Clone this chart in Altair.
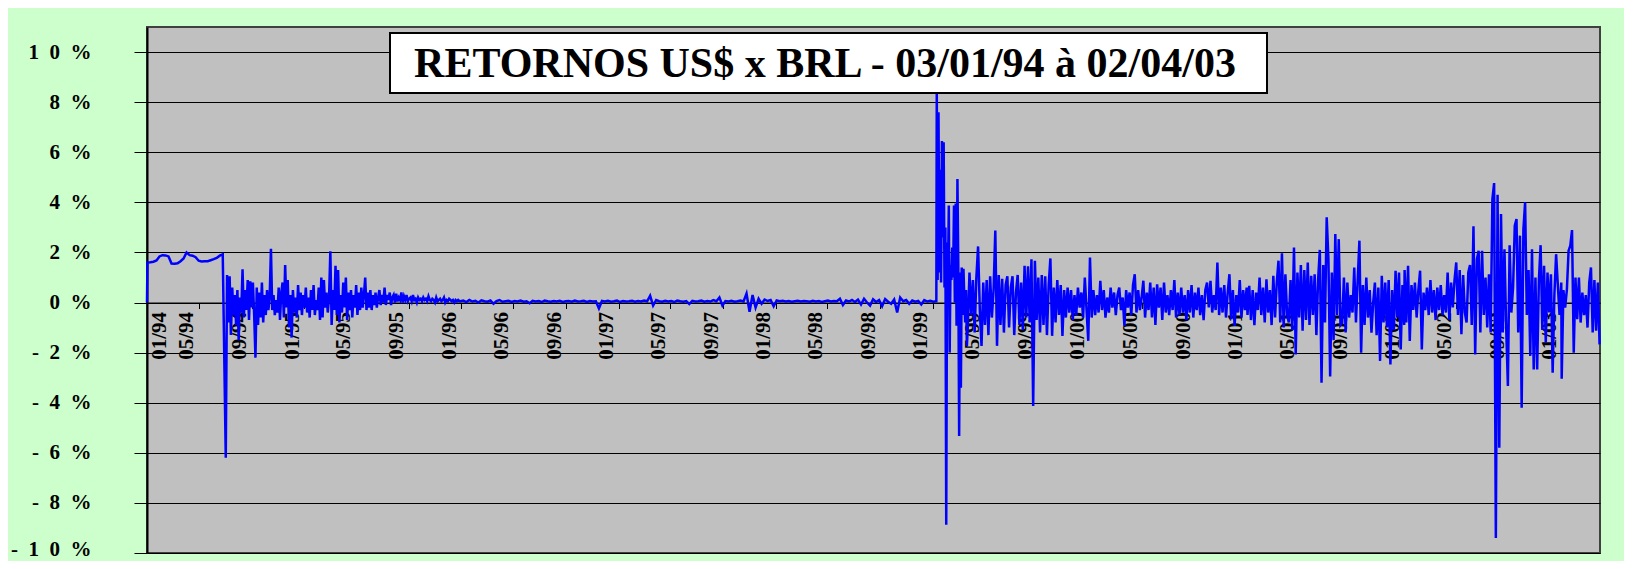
import pandas as pd
import altair as alt

FONT = "Liberation Serif, Times New Roman, serif"
TITLE = "RETORNOS US$ x BRL - 03/01/94 à 02/04/03"

# ---- daily returns (%), by period ----
start_1994 = [0.0]
plateau_1994 = [1.60, 1.61, 1.63, 1.68, 1.84, 1.89, 1.88, 1.84, 1.56, 1.55, 1.57, 1.65, 1.76,
                2.00, 1.89, 1.87, 1.81, 1.67, 1.64, 1.65, 1.65, 1.69, 1.73, 1.78, 1.87, 1.92]
ret_1994_95 = [
    -6.2, 1.1, -0.8, 1.05, -1.3, 0.6, -0.5, 0.3, -0.9, 0.5,
    -1.5, 0.2, -0.4, 1.33, -0.6, 0.5, -0.3, 0.9, -0.7, 0.85,
    -0.2, 0.8, -0.5, -2.2, 0.6, -0.9, 0.4, -0.6, 0.8, -0.8,
    0.3, -0.5, 0.5, -0.3, 0.2, 2.15, -0.3, 0.3, -0.5, 0.1,
    -0.4, 0.6, -0.7, 0.4, 0.8, -0.6, 1.5, -0.2, 0.9, -1.0,
    0.3, -1.4, 0.5, -0.4, 0.2, -0.6, 0.7, -0.3, 0.4, -0.5,
    0.3, -0.2, 0.6, -0.4, 0.2, -0.6, 0.5, -0.3, 0.7, -0.5,
    0.1, -0.3, 0.6, -0.7, 1.0, -0.6, 0.9, -0.2, 0.4, -0.4,
    0.2, 2.05, -0.9, 0.5, -0.3, 1.47, -0.5, 1.3, -0.8, 0.3,
    -0.4, 0.8, -0.2, 1.0, -0.7, 0.4, -0.3, 0.5, -0.6, 0.3,
    -0.2, 0.7, -0.5, 0.4, -0.3, 0.6, -0.2, 0.3, 1.0, -0.3,
    0.4, -0.2, 0.5, -0.3, 0.3, -0.1, 0.4, -0.2, 0.2, 0.5,
    -0.1, 0.3, 0.0, 0.6, -0.1, 0.3, 0.1, 0.4, -0.1, 0.2,
    0.3, 0.0, 0.35, 0.05, 0.2, 0.1, 0.4, 0.0, 0.25, 0.1,
    0.3, 0.05, 0.15, 0.2, 0.05, 0.3, 0.1, 0.15, 0.0, 0.2,
    0.1, 0.15, 0.05, 0.2, 0.1, 0.15, 0.05, 0.25, 0.1, 0.05,
    0.15, 0.1, 0.0, 0.2, 0.05, 0.1, 0.15, 0.05, 0.1, 0.2,
    0.0, 0.1, 0.05, 0.15, 0.1, 0.05, 0.1, 0.0, 0.1, 0.05,
    0.1, 0.05]
ret_1996_98 = [
    0.05, 0.08, 0.02, 0.1, 0.04, 0.07, 0.0, 0.09, 0.05, 0.03,
    0.08, -0.05, 0.06, 0.1, 0.03, 0.05, 0.07, 0.02, 0.06, 0.04,
    0.08, 0.03, 0.05, -0.03, 0.07, 0.04, 0.06, 0.02, 0.08, 0.05,
    0.03, 0.06, 0.04, 0.07, 0.02, 0.05, 0.06, 0.03, 0.08, 0.04,
    0.05, 0.07, 0.02, 0.06, 0.04, 0.05, -0.24,
    0.06, 0.04, 0.07, 0.03, 0.05, 0.08, 0.02, 0.06, 0.04, 0.05,
    0.07, 0.03, 0.06, 0.04, 0.08, 0.05, 0.27, -0.12, 0.1,
    0.05, 0.03, 0.07, 0.04, 0.06, 0.02, 0.08, 0.05, 0.03, 0.06,
    -0.06, 0.07, 0.04, 0.05, 0.08, 0.03, 0.06, 0.04, 0.1, 0.05,
    0.2, -0.12, 0.06, 0.04, 0.07, 0.03, 0.05, 0.08, 0.04,
    0.36, -0.37, 0.3, -0.2, 0.15, -0.05, 0.12, 0.06, 0.1, -0.15, 0.08, 0.05,
    0.07, 0.04, 0.06, 0.03, 0.05, 0.07, 0.04, 0.06, 0.05, 0.03,
    0.07, 0.04, 0.06, 0.02, 0.05, 0.08, 0.04, 0.06, 0.05,
    0.15, -0.1, 0.08, 0.04, 0.1, 0.02,
    0.12, -0.08, 0.15, 0.0, -0.12, 0.13, 0.02, 0.1, -0.15, 0.14,
    0.03, -0.05, 0.12, -0.4, 0.2, 0.05,
    0.1, -0.05, 0.08, 0.03, 0.06, -0.08, 0.1, 0.04, 0.07, 0.03, 0.05]
ret_crisis_1999 = [
    8.4, 0.9, 7.6, 1.2, 5.3, 0.8, 6.45, 2.6, 6.4, 0.6,
    3.0, -8.87, 2.4, 1.0, 3.87, -2.0, 1.5, 0.9, 2.2, 1.0,
    3.87, 0.0, 3.95, -0.93, 4.93, 1.5, -5.33, 1.2, -3.4, 1.4,
    -0.5, 1.35, 0.2, -0.8, 0.5, -1.73]
ret_1999 = [
    -1.0, 1.2, -0.5, 0.9, -1.2, 1.0, 2.24, -0.3, -1.73, 0.8,
    -0.9, 0.9, -1.3, 1.05, -0.6, 0.5, 2.87, -1.73, 1.1, -0.9,
    0.95, -1.2, 0.7, 1.05, -1.0, 0.6, 1.05, -1.3, 0.4, 1.1,
    -0.9, 0.8, -1.1, 1.47, -0.6, 1.45, -0.8, 1.73, -4.13, 1.67,
    -0.7, 1.0, -1.2, 1.1, -0.9, 1.05, -1.3, 0.7, 1.76, -1.33,
    0.6, -0.8, 0.9, -0.5, 0.7, -1.33, 0.5, -0.6, 0.6, -0.4,
    0.5, -0.7, 0.3, -0.5, 0.6, -0.2, 0.4, -0.6, 1.0, -0.3,
    -1.53]
ret_2000 = [
    1.8, -0.6, 0.5, -0.5, 0.3, -0.4, 0.87, -0.3, 0.5, -0.6,
    0.2, -0.4, 0.6, -0.2, 0.4, -0.5, 0.3, 0.6, -0.3, 0.2,
    -0.93, 0.5, -0.2, 0.4, -0.5, 0.7, 1.13, -0.4, 0.5, -0.3,
    0.2, 0.87, -0.6, 0.4, -0.3, 0.8, -0.6, 0.6, -0.9, 0.73,
    -0.2, 0.6, -0.7, 0.8, -0.4, 0.3, -0.5, 0.5, -0.3, 0.9,
    -0.6, 0.4, -0.5, 0.6, -0.4, 0.3, -0.7, 0.5, -0.4, 0.7,
    -0.6, 0.4, -0.3, 0.6, -0.5, 0.3, -0.7, 0.5, 0.8, -0.2,
    0.87, -0.4, 0.3, -0.3, 1.6, -0.5, 0.6, -0.4, 0.7, -0.6,
    0.4, 1.13, -0.67, 0.5, -0.93, 0.3, -0.4, 0.9, -0.6, 0.5,
    -0.3, 0.6]
ret_2001 = [
    -0.5, 0.67, -0.7, 0.5, -0.9, 0.4, -0.3, 1.0, -0.5, 0.6,
    -0.8, 0.93, -0.4, 0.5, -0.9, 1.07, -0.6, 0.8, 1.67, -0.8,
    1.97, -1.0, 1.13, -0.5, -0.8, 0.9, -1.1, 2.2, -2.07, 1.2,
    -0.6, 1.5, -1.13, 1.3, -0.7, 1.6, -0.9, 1.07, -0.5, 1.13,
    -1.3, 0.9, 2.1, -3.2, 1.5, -0.8, 3.4, 1.73, -2.95, 1.2,
    -1.5, 2.73, -0.5, 2.53, -0.9, -0.8, 1.0, -1.2, 0.8, -0.6,
    0.3, -0.4, 1.4, -0.8, 0.9, 2.47, -2.0, 0.7, -0.9, 1.0,
    -0.6, 0.5, -1.2, 0.0, 0.8, -1.3, 0.6, -2.33, 1.07, -0.8,
    0.8, -1.0, 0.9, -2.47, 0.5, -1.1, 1.27, -0.6, 1.2, -1.87,
    0.7, -0.9]
ret_2002 = [
    1.3, -0.8, 1.47, -1.53, 0.7, -0.3, 0.8, -0.6, 0.5, 1.27,
    -1.87, 0.4, -0.3, 0.6, -0.5, 0.9, -0.4, 0.5, -0.7, 0.6,
    -0.3, 0.7, -0.5, 0.3, -0.4, 1.2, -0.7, 0.8, -0.2, 0.9,
    1.6, -0.5, 1.3, -1.27, 1.1, -0.4, -0.8, 1.2, 1.5, -0.9,
    3.04, -2.07, 1.73, 2.07, -1.2, 2.07, -0.5, 1.0, -1.0, 1.13,
    -1.2, 4.13, 4.77, -9.4, 4.3, -5.8, 3.53, -1.2, 2.13, -1.0,
    -3.33, 2.29, -0.4, 0.6, 3.07, 3.33, -1.2, 2.67, -4.2, 2.9,
    4.0, -0.5, 1.3, -2.13, 2.13, -2.67, 1.0, -2.67, 0.9, 2.29,
    -1.1, 1.47, -1.6, 1.2, -0.4, 1.13, -2.8, 0.3, 1.93, 0.7,
    -0.5, 0.8]
ret_2003 = [
    -3.04, 0.5, -0.2, 0.5, 2.07, 2.27, 2.89, -2.0, 1.0, -0.67,
    1.0, -0.8, 0.4, -0.5, 0.3, -1.0, 0.8, 1.4, -1.2, 0.9,
    -1.13, 0.8, -1.67]

# (first date, days between observations, values)
segments = [
    ("1994-01-03", 1, start_1994),
    ("1994-01-04", 7, plateau_1994),
    ("1994-07-05", 3, ret_1994_95),
    ("1996-01-01", 7, ret_1996_98),
    ("1999-01-12", 2, ret_crisis_1999),
    ("1999-03-25", 4, ret_1999),
    ("2000-01-03", 4, ret_2000),
    ("2001-01-03", 4, ret_2001),
    ("2002-01-03", 4, ret_2002),
    ("2003-01-03", 4, ret_2003),
]

x_tick_labels = ["01/94", "05/94", "09/94", "01/95", "05/95", "09/95", "01/96", "05/96",
                 "09/96", "01/97", "05/97", "09/97", "01/98", "05/98", "09/98", "01/99",
                 "05/99", "09/99", "01/00", "05/00", "09/00", "01/01", "05/01", "09/01",
                 "01/02", "05/02", "09/02", "01/03"]
y_ticks = [-10, -8, -6, -4, -2, 0, 2, 4, 6, 8, 10]
y_tick_labels = ["- 1 0 %", "- 8 %", "- 6 %", "- 4 %", "- 2 %", "0 %",
                 "2 %", "4 %", "6 %", "8 %", "1 0 %"]

rows = []
for start, step, vals in segments:
    d0 = pd.Timestamp(start)
    for i, v in enumerate(vals):
        rows.append({"date": (d0 + pd.Timedelta(days=step * i)).strftime("%Y-%m-%dT00:00:00"),
                     "ret": v})
df = pd.DataFrame(rows)

x_values = []
for lab in x_tick_labels:
    m, yy = lab.split("/")
    yr = 1900 + int(yy) if int(yy) > 50 else 2000 + int(yy)
    x_values.append(alt.DateTime(year=yr, month=int(m), date=3))

label_expr = " : ".join(
    "datum.value == %d ? '%s'" % (v, lab.replace(" ", "\u2002"))
    for v, lab in zip(y_ticks, y_tick_labels)) + " : ''"

W, H = 1453, 526
Y_MIN, Y_MAX = -10, 11
zero_from_bottom = H * (0 - Y_MIN) / (Y_MAX - Y_MIN)
XLAB_SIZE = 21

line = alt.Chart(df).mark_line(color="#0000FF", strokeWidth=2.5).encode(
    x=alt.X("date:T",
            scale=alt.Scale(domain=[alt.DateTime(year=1994, month=1, date=3),
                                    alt.DateTime(year=2003, month=4, date=2)], nice=False),
            axis=alt.Axis(values=x_values, format="%m/%y", formatType="time",
                          labelAngle=270, labelAlign="right", labelBaseline="middle",
                          labelOffset={"condition": {"test": "datum.value < 760000000000",
                                                     "value": 12},
                                       "value": -12},
                          labelPadding=3, labelFont=FONT,
                          labelFontSize=XLAB_SIZE, labelFontWeight="bold", labelColor="black",
                          labelFlush=False, labelOverlap=False,
                          tickSize=6, tickColor="black", tickWidth=1,
                          domainColor="black", domainWidth=1,
                          offset=-zero_from_bottom, grid=False, title=None)),
    y=alt.Y("ret:Q",
            scale=alt.Scale(domain=[Y_MIN, Y_MAX], nice=False, zero=False),
            axis=alt.Axis(values=y_ticks, labelExpr=label_expr, labelFont=FONT,
                          labelFontSize=21, labelFontWeight="bold", labelColor="black",
                          labelOffset={"condition": {"test": "datum.value == -10",
                                                     "value": -4},
                                       "value": 0},
                          labelPadding=43, tickSize=13, tickColor="black", tickWidth=1,
                          domainColor="black", domainWidth=2,
                          grid=True, gridColor="black", gridWidth=1, title=None)),
)

title_df = pd.DataFrame({"title": [TITLE]})
box = alt.Chart(title_df).mark_rect(fill="white", stroke="black", strokeWidth=2).encode(
    x=alt.value(243), x2=alt.value(1120), y=alt.value(6), y2=alt.value(66))
title_text = alt.Chart(title_df).mark_text(
    font=FONT, fontSize=42, fontWeight="bold", color="black",
    align="center", baseline="alphabetic").encode(
    x=alt.value(678), y=alt.value(49.5), text="title:N")

chart = alt.layer(line, box, title_text).properties(
    width=W, height=H,
    autosize=alt.AutoSizeParams(type="none"),
    padding={"left": 139, "top": 19, "right": 24, "bottom": 8},
    background="#CCFFCC",
).configure_view(
    fill="#C0C0C0", stroke="#404040", strokeWidth=2
).configure_axisX(labelFontSize=XLAB_SIZE, labelFont=FONT, labelFontWeight="bold")

chart.save("out.html", embed_options={"renderer": "svg", "actions": False})
